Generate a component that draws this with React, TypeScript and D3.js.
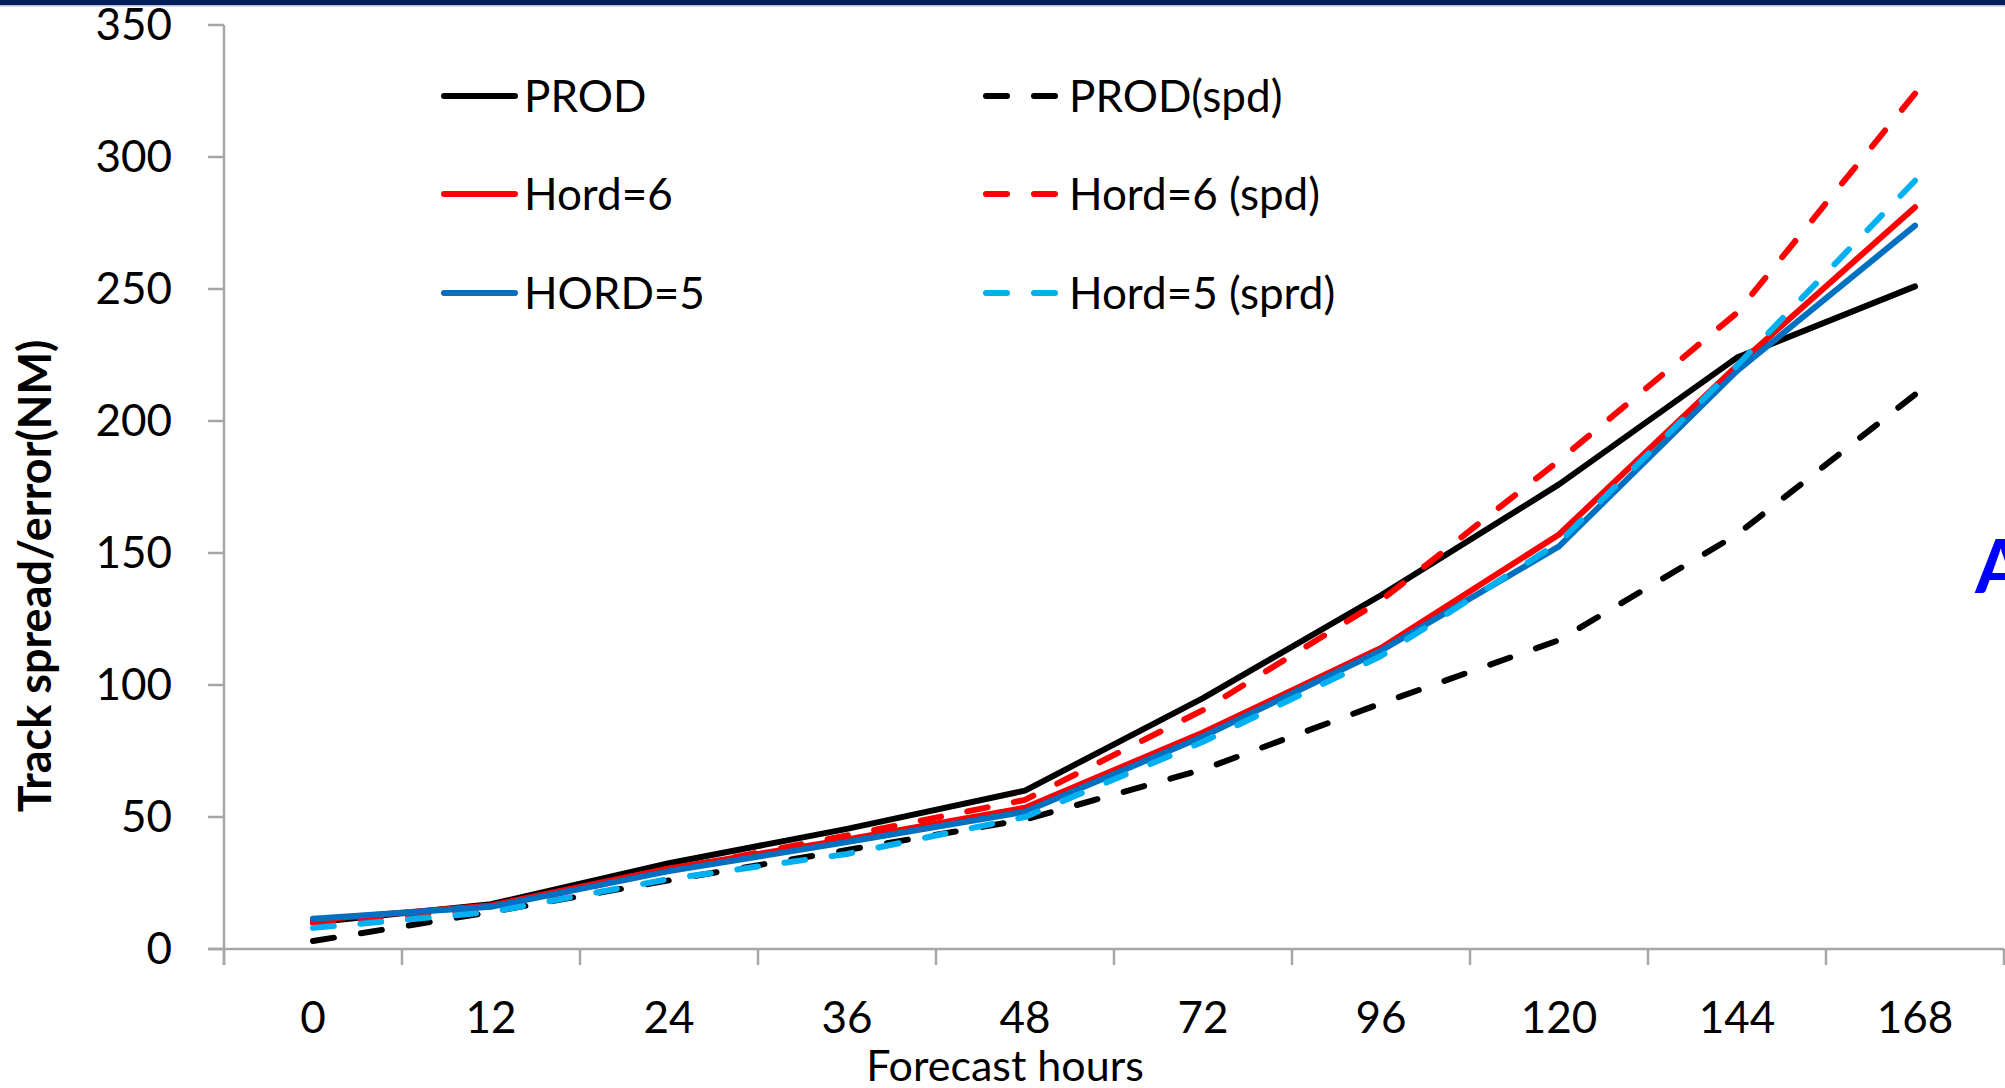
import React from 'react';
import * as d3 from 'd3';

// Forecast lead times (hours) along the category axis
const forecastHours = ['0', '12', '24', '36', '48', '72', '96', '120', '144', '168'];
const yTicks = [0, 50, 100, 150, 200, 250, 300, 350];

// Track error (solid) and ensemble track spread (dashed), nautical miles
const prodError = [10, 17, 32.5, 45.5, 60, 95, 134, 176, 224, 251];
const prodSpread = [3, 14, 26, 37.5, 49, 68, 93, 117, 157, 210];
const hord6Error = [11, 16.5, 30.5, 41.5, 53.5, 82, 114, 157, 221, 281];
const hord6Spread = [10, 15.5, 30, 43, 56.5, 90.5, 132, 185, 241, 324];
const hord5Error = [11.5, 16, 29.5, 40.5, 52, 80.5, 113, 152.5, 219, 274];
const hord5Spread = [8, 14, 26.5, 36, 50, 78.5, 111, 154, 221, 291];

const seriesLabels = ['PROD', 'PROD(spd)', 'Hord=6', 'Hord=6 (spd)', 'HORD=5', 'Hord=5 (sprd)'];

const series = [
  { name: seriesLabels[0], values: prodError, color: '#000000', dashed: false },
  { name: seriesLabels[1], values: prodSpread, color: '#000000', dashed: true },
  { name: seriesLabels[2], values: hord6Error, color: '#FF0000', dashed: false },
  { name: seriesLabels[3], values: hord6Spread, color: '#FF0000', dashed: true },
  { name: seriesLabels[4], values: hord5Error, color: '#0070C0', dashed: false },
  { name: seriesLabels[5], values: hord5Spread, color: '#00B0F0', dashed: true },
];

const W = 2005;
const H = 1088;
const plot = { left: 224, right: 2004, top: 25, bottom: 949 };
const FONT = 'Lato, "Open Sans", sans-serif';
const AXIS = '#A6A6A6';
const LW = 6;
const DASH_ON = 21;
const DASH_OFF = 27;

// Stretch the dash pattern slightly so a dash lands on both ends of a path
function fittedDash(length: number): string {
  const n = Math.max(1, Math.round((length + DASH_OFF) / (DASH_ON + DASH_OFF)));
  const s = length / (n * DASH_ON + (n - 1) * DASH_OFF);
  return `${DASH_ON * s} ${DASH_OFF * s}`;
}

function polylineLength(pts: [number, number][]): number {
  let L = 0;
  for (let i = 1; i < pts.length; i++) {
    L += Math.hypot(pts[i][0] - pts[i - 1][0], pts[i][1] - pts[i - 1][1]);
  }
  return L;
}

export default function App() {
  const x = d3.scaleBand<string>().domain(forecastHours).range([plot.left, plot.right]).padding(0);
  const y = d3.scaleLinear().domain([0, 350]).range([plot.bottom, plot.top]);
  const cx = (h: string) => (x(h) ?? 0) + x.bandwidth() / 2;
  const line = d3.line<[number, number]>();

  const boundaries = forecastHours.map((h) => x(h) ?? 0).concat([plot.right]);

  // legend grid: two columns, three rows
  const legendRows = [96, 194, 293];
  const legendCols = [
    { x0: 444, x1: 515, tx: 524 },
    { x0: 986, x1: 1057, tx: 1069 },
  ];

  return (
    <svg
      width={W}
      height={H}
      viewBox={`0 0 ${W} ${H}`}
      style={{ position: 'fixed', left: 0, top: 0, background: '#fff' }}
      fontFamily={FONT}
    >
      <rect x={0} y={0} width={W} height={H} fill="#fff" />
      <rect x={0} y={0} width={W} height={5} fill="#001F5B" />
      <rect x={0} y={5} width={W} height={1.5} fill="#B8C2DE" />

      {/* value axis */}
      <line x1={plot.left} x2={plot.left} y1={plot.top} y2={plot.bottom + 16} stroke={AXIS} strokeWidth={2.5} />
      {yTicks.map((t) => (
        <g key={t}>
          <line x1={plot.left - 16} x2={plot.left} y1={y(t)} y2={y(t)} stroke={AXIS} strokeWidth={2.5} />
          <text x={172} y={y(t) + 15} textAnchor="end" fontSize={44} fill="#000">
            {t}
          </text>
        </g>
      ))}

      {/* category axis */}
      <line x1={plot.left - 16} x2={plot.right} y1={plot.bottom} y2={plot.bottom} stroke={AXIS} strokeWidth={2.5} />
      {boundaries.map((b, i) => (
        <line key={i} x1={b} x2={b} y1={plot.bottom} y2={plot.bottom + 16} stroke={AXIS} strokeWidth={2.5} />
      ))}
      {forecastHours.map((h) => (
        <text key={h} x={cx(h)} y={1033} textAnchor="middle" fontSize={44} fill="#000">
          {h}
        </text>
      ))}

      <text x={1005} y={1081} textAnchor="middle" fontSize={43} fill="#000">
        Forecast hours
      </text>
      <text
        transform={`translate(51, 576) rotate(-90)`}
        textAnchor="middle"
        fontSize={45}
        fontWeight="bold"
        fill="#000"
      >
        Track spread/error(NM)
      </text>

      {/* series */}
      {series.map((s) => {
        const pts = s.values.map((v, i) => [cx(forecastHours[i]), y(v)] as [number, number]);
        return (
          <path
            key={s.name}
            d={line(pts) ?? ''}
            fill="none"
            stroke={s.color}
            strokeWidth={LW}
            strokeLinejoin="round"
            strokeLinecap="round"
            strokeDasharray={s.dashed ? fittedDash(polylineLength(pts)) : undefined}
          />
        );
      })}

      {/* legend */}
      {series.map((s, i) => {
        const col = legendCols[i % 2];
        const ry = legendRows[Math.floor(i / 2)];
        return (
          <g key={s.name}>
            <line
              x1={col.x0}
              x2={col.x1}
              y1={ry}
              y2={ry}
              stroke={s.color}
              strokeWidth={LW}
              strokeLinecap="round"
              strokeDasharray={s.dashed ? `${DASH_ON} ${DASH_OFF}` : undefined}
            />
            <text x={col.tx} y={ry + 16} fontSize={44} fill="#000">
              {s.name}
            </text>
          </g>
        );
      })}

      <text x={1975} y={593} fontSize={74} fontWeight="bold" fill="#0000FF">
        A
      </text>
    </svg>
  );
}
